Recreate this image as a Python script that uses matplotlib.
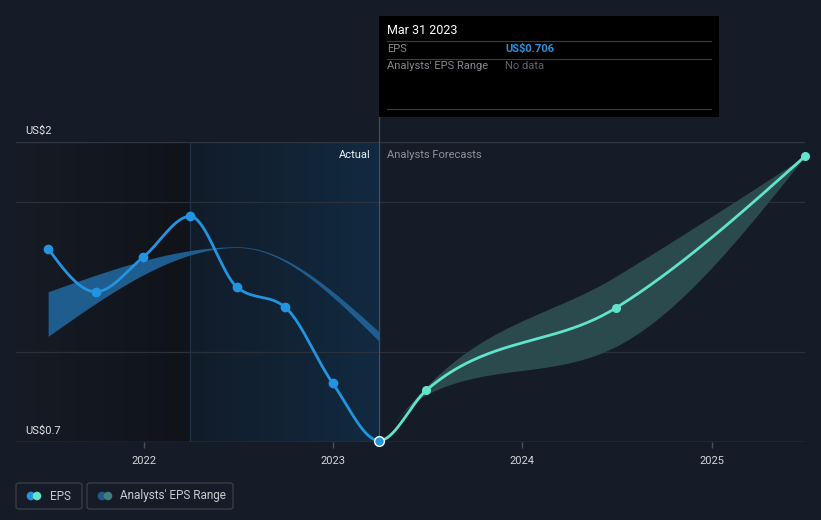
import numpy as np
import matplotlib
matplotlib.use('Agg')
import matplotlib.pyplot as plt
import matplotlib.dates as mdates
from matplotlib.patches import Rectangle, FancyBboxPatch, Ellipse
from matplotlib.lines import Line2D
from matplotlib.colors import LinearSegmentedColormap

plt.rcParams['font.family'] = ['Roboto', 'DejaVu Sans']

# ---------------- data ----------------
actual_dates = ['2021-06-30', '2021-09-30', '2021-12-31', '2022-03-31',
                '2022-06-30', '2022-09-30', '2022-12-31', '2023-03-31']
actual_eps = [1.538, 1.351, 1.502, 1.678, 1.370, 1.285, 0.956, 0.706]

forecast_dates = ['2023-03-31', '2023-06-30', '2024-06-30', '2025-06-30']
forecast_eps = [0.706, 0.924, 1.281, 1.938]
forecast_low = [0.706, 0.905, 1.114, 1.938]
forecast_high = [0.706, 0.940, 1.418, 1.938]

past_range_dates = ['2021-06-30', '2022-06-30', '2023-03-31']
past_range_low = [1.158, 1.543, 1.136]
past_range_high = [1.351, 1.546, 1.177]

year_ticks = [2022, 2023, 2024, 2025]
y_tick_labels = ['US$0.7', 'US$2']
y_tick_values = [0.7, 2.0]

tooltip_date = 'Mar 31 2023'
tooltip_eps = 'US$0.706'
tooltip_range = 'No data'
highlight_start = '2022-03-31'
last_actual = '2023-03-31'

# ---------------- helpers ----------------
W, H = 821, 520
BG = '#161c27'
BLUE = '#2394df'
TEAL = '#62e3cb'


def fx(px):
    return px / W


def fy(py):
    return 1 - py / H


def dnum(ds):
    return mdates.datestr2num(ds) if isinstance(ds, str) else np.array([mdates.datestr2num(d) for d in ds])


def monotone_x(x, y, n=80):
    x = np.asarray(x, float)
    y = np.asarray(y, float)
    k = len(x)
    h = np.diff(x)
    s = np.diff(y) / h
    m = np.zeros(k)
    sign = lambda v: -1 if v < 0 else 1
    for i in range(1, k - 1):
        p = (s[i - 1] * h[i] + s[i] * h[i - 1]) / (h[i - 1] + h[i])
        m[i] = (sign(s[i - 1]) + sign(s[i])) * min(abs(s[i - 1]), abs(s[i]), 0.5 * abs(p))
    if k > 2:
        m[0] = (3 * s[0] - m[1]) / 2
        m[-1] = (3 * s[-1] - m[-2]) / 2
    else:
        m[0] = m[-1] = s[0]
    xs, ys = [], []
    for i in range(k - 1):
        t = np.linspace(0, 1, n, endpoint=(i == k - 2))
        h00 = 2 * t**3 - 3 * t**2 + 1
        h10 = t**3 - 2 * t**2 + t
        h01 = -2 * t**3 + 3 * t**2
        h11 = t**3 - t**2
        xs.append(x[i] + t * h[i])
        ys.append(h00 * y[i] + h10 * h[i] * m[i] + h01 * y[i + 1] + h11 * h[i] * m[i + 1])
    return np.concatenate(xs), np.concatenate(ys)


# ---------------- figure ----------------
fig = plt.figure(figsize=(W / 100, H / 100), dpi=100, facecolor=BG)
ax = fig.add_axes([fx(16), 1 - 442 / H, (805 - 16) / W, 300 / H])
ax.set_facecolor(BG)

xmin = dnum('2021-04-29')
xmax = dnum('2025-06-30')
ymin, ymax = 0.7, 2.0

hs = dnum(highlight_start)
la = dnum(last_actual)

# background gradients
grad = np.linspace(0, 1, 256).reshape(1, -1)
cm_dark = LinearSegmentedColormap.from_list('d', ['#161b25', '#101319'])
ax.imshow(grad, extent=[xmin, hs, ymin, ymax], aspect='auto', cmap=cm_dark, zorder=0)
cm_hl = LinearSegmentedColormap.from_list('h', ['#121c29', '#112a41'])
ax.imshow(grad, extent=[hs, la, ymin, ymax], aspect='auto', cmap=cm_hl, zorder=0)

# gridlines
for gv in [1.74, 1.09]:
    ax.axhline(gv, color='#2b313b', lw=0.9, zorder=1)
ax.axhline(2.0, color='#30363f', lw=1.0, zorder=1)
ax.axhline(0.7, color='#4b5059', lw=1.0, zorder=6)

# vertical lines
ax.axvline(hs, color='#1d3349', lw=0.9, zorder=1)
ax.axvline(la, ymin=0, ymax=1 + 25 / 300, color='#38506a', lw=0.9, zorder=1, clip_on=False)

# past analyst range band
bx, blo = monotone_x(dnum(past_range_dates), past_range_low)
_, bhi = monotone_x(dnum(past_range_dates), past_range_high)
ax.fill_between(bx, blo, bhi, color='#1f5d8e', lw=0, zorder=2)

# forecast band
fxs, flo = monotone_x(dnum(forecast_dates), forecast_low)
_, fhi = monotone_x(dnum(forecast_dates), forecast_high)
ax.fill_between(fxs, flo, fhi, color='#2b4a4d', lw=0, zorder=2)

# combined EPS line (actual + forecast), split at last actual date
all_dates = np.concatenate([dnum(actual_dates), dnum(forecast_dates)[1:]])
all_eps = list(actual_eps) + list(forecast_eps[1:])
cx, cy = monotone_x(all_dates, all_eps)
past_mask = cx <= la + 1e-9
fut_mask = cx >= la - 1e-9
ax.plot(cx[fut_mask], cy[fut_mask], color=TEAL, lw=2.0, zorder=3, solid_capstyle='round')
ax.plot(dnum(forecast_dates)[1:], forecast_eps[1:], 'o', color=TEAL, ms=5.5, zorder=4, clip_on=False)

ax.plot(cx[past_mask], cy[past_mask], color=BLUE, lw=2.0, zorder=3, solid_capstyle='round')
ax.plot(dnum(actual_dates)[:-1], actual_eps[:-1], 'o', color=BLUE, ms=6, zorder=4)
ax.plot(dnum(actual_dates)[-1:], actual_eps[-1:], 'o', color=BLUE, ms=7, mec='white',
        mew=1.0, zorder=7, clip_on=False)

ax.set_xlim(xmin, xmax)
ax.set_ylim(ymin, ymax)

for s in ax.spines.values():
    s.set_visible(False)
ax.set_yticks([])
ax.set_xticks([dnum(f'{y}-01-01') for y in year_ticks])
ax.set_xticklabels([str(y) for y in year_ticks])
ax.tick_params(axis='x', colors='#4b5059', length=4, width=1, pad=6, labelcolor='#d3d5d8', labelsize=8)

# y labels (slightly above their gridlines)
for lab, v in zip(y_tick_labels, y_tick_values):
    ax.text(0.012, v + 0.025, lab, transform=ax.get_yaxis_transform(), color='#e3e4e6', fontsize=8,
            va='bottom', ha='left', zorder=8)

# Actual / forecast labels
fig.text(fx(371), fy(154.5), 'Actual', color='#eef0f2', fontsize=8, ha='right', va='center')
fig.text(fx(387), fy(154.5), 'Analysts Forecasts', color='#8d9198', fontsize=8, ha='left', va='center')

# tooltip
fig.patches.append(Rectangle((fx(379), fy(117)), (719 - 379) / W, (117 - 16) / H,
                             transform=fig.transFigure, facecolor='#000000', edgecolor='none', zorder=10))
for ly_ in [41.5, 58.5, 109]:
    fig.add_artist(Line2D([fx(387), fx(711)], [fy(ly_), fy(ly_)], color='#3a3d42', lw=0.8, zorder=11))
fig.text(fx(387), fy(31), tooltip_date, color='#ffffff', fontsize=9, va='center', zorder=12)
fig.text(fx(387), fy(49), 'EPS', color='#85898f', fontsize=8, va='center', zorder=12)
fig.text(fx(505), fy(49), tooltip_eps, color=BLUE, fontsize=8, fontweight='bold', va='center', zorder=12)
fig.text(fx(387), fy(66), "Analysts' EPS Range", color='#85898f', fontsize=8, va='center', zorder=12)
fig.text(fx(505), fy(66), tooltip_range, color='#5f6369', fontsize=8, va='center', zorder=12)


# legend
def legend_box(x0, x1, label, c1, c2, tx):
    fig.patches.append(FancyBboxPatch((fx(x0), fy(509)), (x1 - x0) / W, 26 / H,
                                      boxstyle='round,pad=0,rounding_size=0.004',
                                      transform=fig.transFigure, facecolor='none',
                                      edgecolor='#3a3f49', lw=0.9))
    r = 4.3
    fig.patches.append(Ellipse((fx(x0 + 15), fy(496)), 2 * r / W, 2 * r / H,
                               transform=fig.transFigure, facecolor=c1, edgecolor='none'))
    fig.patches.append(Ellipse((fx(x0 + 21), fy(496)), 2 * r / W, 2 * r / H,
                               transform=fig.transFigure, facecolor=c2, edgecolor='none'))
    fig.text(fx(tx), fy(496), label, color='#c9cbce', fontsize=8.5, va='center', ha='left')


legend_box(16, 82, 'EPS', BLUE, TEAL, 50)
legend_box(87, 233, "Analysts' EPS Range", '#1f5a8a', '#3f7f7a', 120)

fig.savefig('out.png', dpi=100, facecolor=BG)
